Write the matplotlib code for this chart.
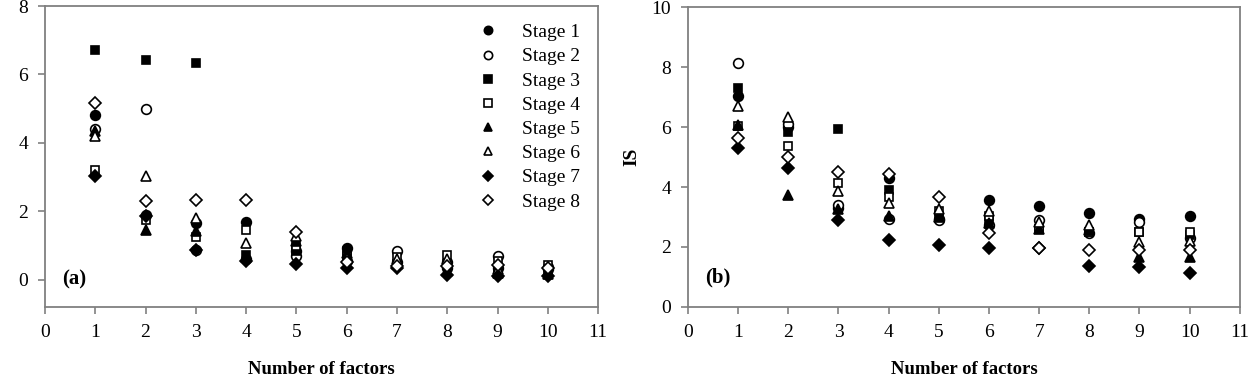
import matplotlib.pyplot as plt
import numpy as np

plt.rcParams['font.family'] = ['Liberation Serif', 'DejaVu Serif']

# Number of factors on the x axis
factors = [1, 2, 3, 4, 5, 6, 7, 8, 9, 10]
stages = ["Stage 1", "Stage 2", "Stage 3", "Stage 4",
          "Stage 5", "Stage 6", "Stage 7", "Stage 8"]

# panel (a): change of IS per stage
d_stage1 = [4.82, 1.90, 1.66, 1.68, 0.83, 0.92, 0.50, 0.35, 0.35, 0.30]
d_stage2 = [4.40, 5.00, 0.86, 0.60, 0.68, 0.55, 0.85, 0.50, 0.68, 0.38]
d_stage3 = [6.70, 6.41, 6.33, 0.73, 0.85, 0.85, 0.45, 0.45, 0.30, 0.20]
d_stage4 = [3.20, 1.75, 1.25, 1.46, 0.97, 0.70, 0.65, 0.72, 0.55, 0.42]
d_stage5 = [4.35, 1.44, 1.41, 0.65, 1.12, 0.78, 0.45, 0.25, 0.20, 0.15]
d_stage6 = [4.20, 3.04, 1.80, 1.07, 1.27, 0.62, 0.60, 0.60, 0.30, 0.25]
d_stage7 = [3.04, 1.85, 0.86, 0.54, 0.45, 0.33, 0.35, 0.12, 0.10, 0.10]
d_stage8 = [5.15, 2.29, 2.32, 2.34, 1.40, 0.50, 0.40, 0.40, 0.42, 0.35]

# panel (b): IS per stage
is_stage1 = [7.05, 6.00, 3.30, 4.30, 2.95, 3.57, 3.37, 3.12, 2.93, 3.03]
is_stage2 = [8.13, 6.10, 3.40, 2.95, 2.90, 2.75, 2.90, 2.45, 2.85, 2.30]
is_stage3 = [7.30, 5.85, 5.92, 3.90, 3.05, 2.90, 2.60, 2.50, 2.50, 2.40]
is_stage4 = [6.05, 5.38, 4.12, 3.68, 3.20, 3.05, 2.59, 2.51, 2.51, 2.51]
is_stage5 = [6.07, 3.72, 3.26, 3.05, 3.00, 2.80, 2.60, 2.55, 1.66, 1.66]
is_stage6 = [6.70, 6.33, 3.88, 3.46, 3.26, 3.21, 2.85, 2.73, 2.18, 2.20]
is_stage7 = [5.29, 4.65, 2.90, 2.23, 2.07, 1.96, 1.96, 1.37, 1.32, 1.14]
is_stage8 = [5.62, 5.00, 4.50, 4.42, 3.68, 2.46, 1.96, 1.90, 1.90, 1.90]

panel_a = [d_stage1, d_stage2, d_stage3, d_stage4, d_stage5, d_stage6, d_stage7, d_stage8]
panel_b = [is_stage1, is_stage2, is_stage3, is_stage4, is_stage5, is_stage6, is_stage7, is_stage8]

markers = ['o', 'o', 's', 's', '^', '^', 'D', 'D']
filled = [True, False, True, False, True, False, True, False]
sizes = [7, 7, 6, 6, 6.5, 6.5, 6, 6]

fig = plt.figure(figsize=(12.6, 3.78), dpi=100)
ax1 = fig.add_axes([0.0357, 0.188, 0.439, 0.796])
ax2 = fig.add_axes([0.546, 0.188, 0.438, 0.793])

def draw(ax, series, legend):
    for i, vals in enumerate(series):
        ax.plot(factors, vals, linestyle='none', marker=markers[i],
                markersize=sizes[i], markeredgecolor='black', markeredgewidth=1.2,
                markerfacecolor='black' if filled[i] else 'white',
                label=stages[i], zorder=3 + i)
    ax.set_xlim(0, 11)
    ax.set_xticks(range(0, 12))
    for s in ax.spines.values():
        s.set_color('#808080')
        s.set_linewidth(1.3)
    ax.tick_params(direction='out', color='#808080', length=5, width=1.2,
                   labelsize=14, pad=7)
    ax.set_xlabel("Number of factors", fontsize=13.5, fontweight='bold', labelpad=15)
    if legend:
        ax.legend(loc='upper right', frameon=False, fontsize=14, handletextpad=0.75,
                  labelspacing=0.34, borderaxespad=0.5, markerscale=0.85)

draw(ax1, panel_a, True)
ax1.set_ylim(-0.8, 8)
ax1.set_yticks([0, 2, 4, 6, 8])
# the label sits partly past the left edge, as in the original figure
ax1.set_ylabel("ΔIS", fontsize=14, fontweight='bold', labelpad=12)
ax1.text(0.35, 0.0, "(a)", fontsize=15, fontweight='bold', va='center')

draw(ax2, panel_b, False)
ax2.set_ylim(0, 10)
ax2.set_yticks([0, 2, 4, 6, 8, 10])
ax2.set_ylabel("IS", fontsize=14, fontweight='bold', labelpad=8)
ax2.text(0.35, 0.97, "(b)", fontsize=15, fontweight='bold', va='center')

plt.savefig("out.png", dpi=100)
